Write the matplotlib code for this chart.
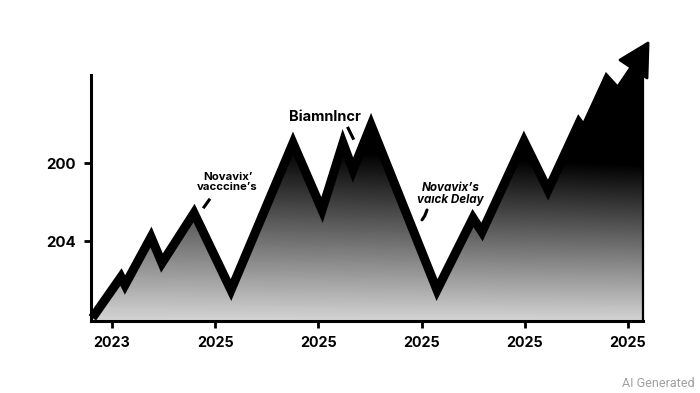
import matplotlib
matplotlib.use("Agg")
import matplotlib.pyplot as plt
import numpy as np
from matplotlib.patches import Polygon

# axis labels as drawn in the picture
X_TICKS = [0, 1, 2, 3, 4, 5]
X_TICK_LABELS = ["2023", "2025", "2025", "2025", "2025", "2025"]
Y_TICKS = [1.01, 2.0]
Y_TICK_LABELS = ["204", "200"]

# zig-zag price line (x in tick units, y in arbitrary height units)
x_pos = [-0.19, 0.087, 0.126, 0.378, 0.484, 0.795, 1.153, 1.754, 2.035, 2.238,
         2.335, 2.510, 3.149, 3.498, 3.585, 3.992, 4.225, 4.525, 4.574, 4.797,
         4.903, 5.053]
price = [0.04, 0.557, 0.456, 1.063, 0.734, 1.367, 0.392, 2.253, 1.405, 2.253,
         1.911, 2.481, 0.392, 1.304, 1.127, 2.278, 1.658, 2.506, 2.418, 3.051,
         2.899, 3.19]

# arrow head (tip, left corner, right corner)
head_x = [5.194, 4.922, 5.184]
head_y = [3.519, 3.304, 3.076]

X_MIN, X_MAX = -0.2035, 5.213
Y_MIN, Y_MAX = 0.0, 3.557
FILL_RIGHT = 5.145
FONT = "Inter"

fig = plt.figure(figsize=(7.0, 3.93), dpi=100)
ax = fig.add_axes([0.13, 0.1832, 0.7986, 0.715])
ax.set_xlim(X_MIN, X_MAX)
ax.set_ylim(Y_MIN, Y_MAX)

# gradient fill under the line
poly_pts = [(X_MIN, 0.0)] + list(zip(x_pos, price)) + [(FILL_RIGHT, 3.09), (FILL_RIGHT, 0.0)]
poly = Polygon(poly_pts, closed=True, facecolor="none", edgecolor="none")
ax.add_patch(poly)
gx = np.linspace(X_MIN, X_MAX, 400)
gy = np.linspace(Y_MIN, Y_MAX, 300)
GX, GY = np.meshgrid(gx, gy)
xfrac = (GX - X_MIN) / (X_MAX - X_MIN)
shade = np.clip(0.83 - GY * (0.36 + 0.06 * xfrac), 0, 1)
im = ax.imshow(shade, extent=[X_MIN, X_MAX, Y_MIN, Y_MAX], origin="lower",
               cmap="gray", vmin=0, vmax=1, aspect="auto", zorder=1)
im.set_clip_path(poly)
ax.plot([FILL_RIGHT, FILL_RIGHT], [0, 3.09], color="black", lw=1.6, zorder=2, clip_on=False)

# main line + arrow head
ax.plot(x_pos, price, color="black", lw=6.5, solid_joinstyle="miter",
        solid_capstyle="butt", zorder=3, clip_on=False)
ax.add_patch(Polygon(list(zip(head_x, head_y)), closed=True, facecolor="black",
                     edgecolor="black", lw=2, joinstyle="round", zorder=4, clip_on=False))

# spines and ticks
for side in ["top", "right"]:
    ax.spines[side].set_visible(False)
for side in ["left", "bottom"]:
    ax.spines[side].set_linewidth(2.2)
ax.spines["left"].set_bounds(0, 3.11)
ax.spines["bottom"].set_bounds(X_MIN, FILL_RIGHT)

tick_font = dict(family=FONT, weight="bold")
ax.set_xticks(X_TICKS)
ax.set_xticklabels(X_TICK_LABELS, fontsize=10.3, **tick_font)
ax.set_yticks(Y_TICKS)
ax.set_yticklabels(Y_TICK_LABELS, fontsize=10.8, **tick_font)
ax.tick_params(axis="x", length=5, width=2, pad=6)
ax.tick_params(axis="y", length=5, width=2, pad=6)

# annotations
ax.text(2.065, 2.58, "Biamnlncr", ha="center", va="center", fontsize=10.5,
        family=FONT, weight="bold", zorder=5)
ax.plot([2.288, 2.336], [2.440, 2.313], color="black", lw=2.2, zorder=5)

ax.text(1.12, 1.76, "Novavix\u2019\nvacccine\u2019s", ha="center", va="center",
        fontsize=8.2, family=FONT, weight="bold", linespacing=1.0, zorder=5)
ax.plot([0.941, 0.892], [1.532, 1.443], color="black", lw=2.2, zorder=5)

ax.text(3.28, 1.61, "Novavix\u2019s\nva\u0131ck Delay", ha="center", va="center",
        fontsize=8.4, family=FONT, weight="bold", style="italic",
        linespacing=1.0, zorder=5)
ax.plot([3.052, 3.030, 3.004], [1.405, 1.330, 1.280], color="black", lw=2.2,
        solid_capstyle="round", zorder=5)

fig.text(0.992, 0.008, "AI Generated", ha="right", va="bottom", fontsize=9,
         color="#a0a0a0", family="Roboto")

fig.savefig("out.png", dpi=100, facecolor="white")
